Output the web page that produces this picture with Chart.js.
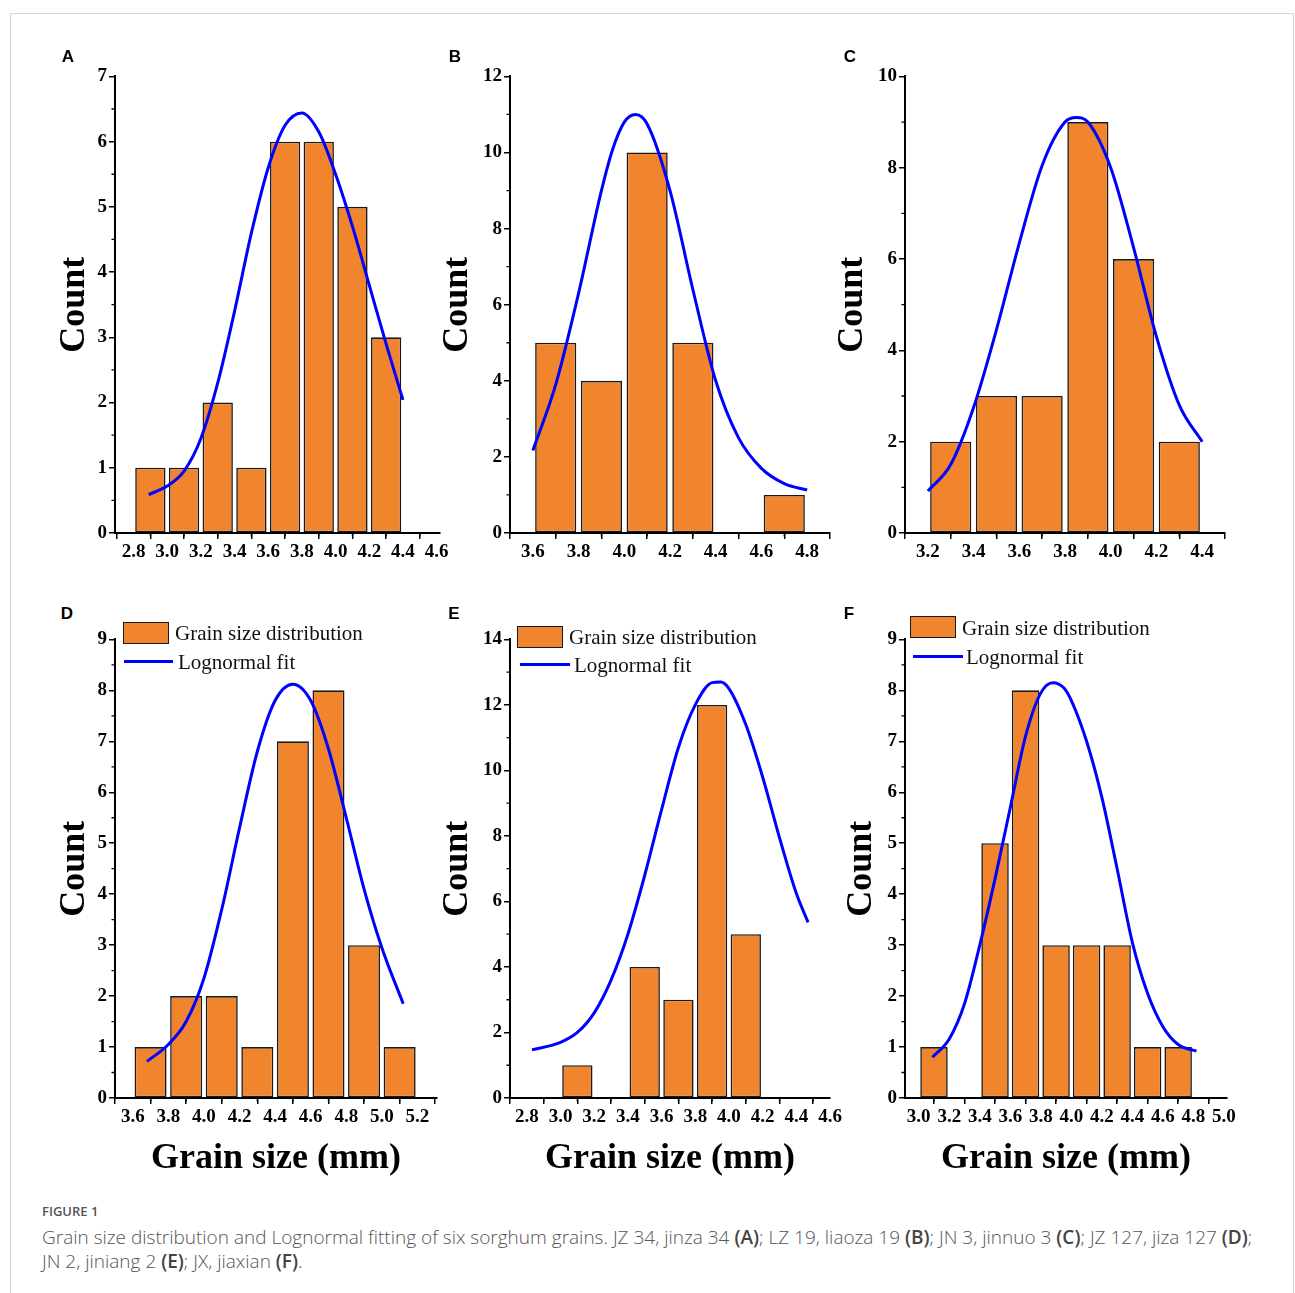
<!DOCTYPE html>
<html>
<head>
<meta charset="utf-8">
<script src="https://cdn.jsdelivr.net/npm/chart.js@4.4.0/dist/chart.umd.min.js"></script>
<style>
  body { margin: 0; background: #fff; width: 1295px; height: 1293px; position: relative; overflow: hidden; }
  .frame { position: absolute; left: 10px; top: 13px; width: 1284px; height: 1300px; border: 1px solid #d6d6d6; box-sizing: border-box; }
  canvas { position: absolute; }
  .letter { position: absolute; font: bold 17px 'Liberation Sans', Arial, sans-serif; color: #000; transform: translate(-50%, -50%); }
  .legbox { position: absolute; width: 44px; height: 20px; background: #F0852D; border: 1.5px solid #1a1a1a; }
  .legline { position: absolute; height: 3px; background: #0000FF; }
  .legtext { position: absolute; font: 21px 'Liberation Serif', 'Times New Roman', serif; color: #111; line-height: 24px; white-space: nowrap; }
  .fig { position: absolute; left: 42px; top: 1202px; font: 600 13px 'Open Sans', sans-serif; color: #555; line-height: 18px; }
  .cap { position: absolute; left: 42px; top: 1225px; font: 300 19px 'Open Sans', sans-serif; color: #555; line-height: 24px; white-space: nowrap; }
  .cap b { font-weight: 600; color: #444; }
</style>
</head>
<body>
<div class="frame"></div>

<canvas id="cA"></canvas>
<canvas id="cB"></canvas>
<canvas id="cC"></canvas>
<canvas id="cD"></canvas>
<canvas id="cE"></canvas>
<canvas id="cF"></canvas>

<div class="letter" style="left:68px;top:57px">A</div>
<div class="letter" style="left:455px;top:57px">B</div>
<div class="letter" style="left:850px;top:57px">C</div>
<div class="letter" style="left:67px;top:614px">D</div>
<div class="letter" style="left:454px;top:614px">E</div>
<div class="letter" style="left:849px;top:614px">F</div>

<!-- legends -->
<div class="legbox" style="left:123px;top:622px"></div>
<div class="legtext" style="left:175px;top:621px">Grain size distribution</div>
<div class="legline" style="left:124px;top:660px;width:49px"></div>
<div class="legtext" style="left:178px;top:650px">Lognormal fit</div>

<div class="legbox" style="left:517px;top:626px"></div>
<div class="legtext" style="left:569px;top:625px">Grain size distribution</div>
<div class="legline" style="left:520px;top:663px;width:50px"></div>
<div class="legtext" style="left:574px;top:653px">Lognormal fit</div>

<div class="legbox" style="left:910px;top:616px"></div>
<div class="legtext" style="left:962px;top:616px">Grain size distribution</div>
<div class="legline" style="left:913px;top:655px;width:50px"></div>
<div class="legtext" style="left:966px;top:645px">Lognormal fit</div>

<div class="fig">FIGURE 1</div>
<div class="cap">Grain size distribution and Lognormal fitting of six sorghum grains. JZ 34, jinza 34 <b>(A)</b>; LZ 19, liaoza 19 <b>(B)</b>; JN 3, jinnuo 3 <b>(C)</b>; JZ 127, jiza 127 <b>(D)</b>;<br>JN 2, jiniang 2 <b>(E)</b>; JX, jiaxian <b>(F)</b>.</div>

<script>
// bin centres (mm) and counts
const binsA = [2.9, 3.1, 3.3, 3.5, 3.7, 3.9, 4.1, 4.3];
const countsA = [1, 1, 2, 1, 6, 6, 5, 3];
const binsB = [3.7, 3.9, 4.1, 4.3, 4.7];
const countsB = [5, 4, 10, 5, 1];
const binsC = [3.3, 3.5, 3.7, 3.9, 4.1, 4.3];
const countsC = [2, 3, 3, 9, 6, 2];
const binsD = [3.7, 3.9, 4.1, 4.3, 4.5, 4.7, 4.9, 5.1];
const countsD = [1, 2, 2, 1, 7, 8, 3, 1];
const binsE = [3.1, 3.5, 3.7, 3.9, 4.1];
const countsE = [1, 4, 3, 12, 5];
const binsF = [3.1, 3.5, 3.7, 3.9, 4.1, 4.3, 4.5, 4.7];
const countsF = [1, 5, 8, 3, 3, 3, 1, 1];

// lognormal fit curves
const fitXA = [2.89, 3.0, 3.1, 3.2, 3.3, 3.4, 3.5, 3.6, 3.7, 3.8, 3.9, 4.0, 4.1, 4.2, 4.3, 4.4];
const fitYA = [0.59, 0.72, 0.95, 1.45, 2.3, 3.4, 4.6, 5.6, 6.25, 6.44, 6.15, 5.5, 4.7, 3.8, 2.9, 2.04];
const fitXB = [3.6, 3.7, 3.8, 3.9, 3.95, 4.0, 4.05, 4.1, 4.2, 4.3, 4.4, 4.5, 4.6, 4.7, 4.8];
const fitYB = [2.17, 3.9, 6.3, 9.0, 10.1, 10.8, 11.0, 10.75, 9.0, 6.4, 4.0, 2.5, 1.7, 1.3, 1.13];
const fitXC = [3.2, 3.3, 3.4, 3.5, 3.6, 3.7, 3.8, 3.85, 3.9, 4.0, 4.1, 4.2, 4.3, 4.4];
const fitYC = [0.92, 1.5, 2.75, 4.45, 6.35, 8.05, 9.0, 9.1, 9.0, 8.0, 6.25, 4.3, 2.8, 2.0];
const fitXD = [3.68, 3.8, 3.9, 4.0, 4.1, 4.2, 4.3, 4.4, 4.5, 4.6, 4.7, 4.8, 4.9, 5.0, 5.12];
const fitYD = [0.72, 1.05, 1.5, 2.35, 3.7, 5.3, 6.8, 7.8, 8.12, 7.8, 6.85, 5.5, 4.1, 2.95, 1.85];
const fitXE = [2.83, 3.0, 3.1, 3.2, 3.3, 3.4, 3.5, 3.6, 3.7, 3.8, 3.9, 3.95, 4.0, 4.1, 4.2, 4.3, 4.4, 4.47];
const fitYE = [1.47, 1.7, 2.0, 2.6, 3.6, 5.0, 6.8, 8.8, 10.7, 12.0, 12.68, 12.7, 12.5, 11.4, 9.8, 7.95, 6.25, 5.36];
const fitXF = [3.09, 3.2, 3.3, 3.4, 3.5, 3.6, 3.7, 3.8, 3.88, 3.95, 4.0, 4.1, 4.2, 4.3, 4.4, 4.5, 4.6, 4.7, 4.82];
const fitYF = [0.8, 1.16, 1.85, 3.0, 4.3, 5.7, 7.1, 7.95, 8.15, 8.05, 7.8, 7.0, 5.9, 4.5, 3.05, 2.05, 1.4, 1.05, 0.92];

// tick labels
const xTicksA = [2.8, 3.0, 3.2, 3.4, 3.6, 3.8, 4.0, 4.2, 4.4, 4.6];
const xTicksB = [3.6, 3.8, 4.0, 4.2, 4.4, 4.6, 4.8];
const xTicksC = [3.2, 3.4, 3.6, 3.8, 4.0, 4.2, 4.4];
const xTicksD = [3.6, 3.8, 4.0, 4.2, 4.4, 4.6, 4.8, 5.0, 5.2];
const xTicksE = [2.8, 3.0, 3.2, 3.4, 3.6, 3.8, 4.0, 4.2, 4.4, 4.6];
const xTicksF = [3.0, 3.2, 3.4, 3.6, 3.8, 4.0, 4.2, 4.4, 4.6, 4.8, 5.0];
const yTicksA = [0, 1, 2, 3, 4, 5, 6, 7];
const yTicksB = [0, 2, 4, 6, 8, 10, 12];
const yTicksC = [0, 2, 4, 6, 8, 10];
const yTicksD = [0, 1, 2, 3, 4, 5, 6, 7, 8, 9];
const yTicksE = [0, 2, 4, 6, 8, 10, 12, 14];
const yTicksF = [0, 1, 2, 3, 4, 5, 6, 7, 8, 9];

// axis ranges
const xRangeA = [2.69, 4.62];
const xRangeB = [3.5, 4.9];
const xRangeC = [3.1, 4.5];
const xRangeD = [3.5, 5.31];
const xRangeE = [2.7, 4.6];
const xRangeF = [2.91, 5.02];

// where each plot area sits on the page
const boxes = {
  A: { left: 115, right: 440, top: 75, bottom: 533, titleX: 75 },
  B: { left: 510, right: 830, top: 75, bottom: 533, titleX: 458 },
  C: { left: 905, right: 1225, top: 75, bottom: 533, titleX: 853 },
  D: { left: 115, right: 437, top: 638, bottom: 1098, titleX: 75 },
  E: { left: 510, right: 830, top: 638, bottom: 1098, titleX: 458 },
  F: { left: 905, right: 1227, top: 638, bottom: 1098, titleX: 862 }
};

const serif = "'Liberation Serif', 'Times New Roman', serif";

const minorTicks = {
  id: "minorTicks",
  afterDraw(chart) {
    const ctx = chart.ctx;
    const xs = chart.scales.x;
    const ys = chart.scales.y;
    ctx.save();
    ctx.strokeStyle = "#000";
    ctx.lineWidth = 1.3;
    ctx.beginPath();
    for (let i = 0; i < xs.ticks.length - 1; i++) {
      const px = xs.getPixelForValue((xs.ticks[i].value + xs.ticks[i + 1].value) / 2);
      ctx.moveTo(px, xs.top);
      ctx.lineTo(px, xs.top + 3.5);
    }
    for (let i = 0; i < ys.ticks.length - 1; i++) {
      const py = ys.getPixelForValue((ys.ticks[i].value + ys.ticks[i + 1].value) / 2);
      ctx.moveTo(ys.right, py);
      ctx.lineTo(ys.right - 3.5, py);
    }
    ctx.stroke();
    ctx.restore();
  }
};

function drawPanel(id, bins, counts, fitX, fitY, xTicks, yTicks, xRange, showXTitle) {
  const b = boxes[id];
  const W = 80;
  const H = showXTitle ? 82 : 40;
  const padTop = 12;
  const padRight = 24;
  const cv = document.getElementById("c" + id);
  const cw = b.right - b.left + W + padRight;
  const ch = b.bottom - b.top + padTop + H;
  cv.width = cw;
  cv.height = ch;
  cv.style.width = cw + "px";
  cv.style.height = ch + "px";
  cv.style.left = b.left - W + "px";
  cv.style.top = b.top - padTop + "px";

  const tickFont = { family: serif, size: 19, weight: "bold" };
  const titleFont = { family: serif, size: 36, weight: "bold" };

  new Chart(cv.getContext("2d"), {
    type: "bar",
    data: {
      datasets: [
        {
          type: "line",
          label: "Lognormal fit",
          data: fitX.map((x, i) => ({ x: x, y: fitY[i] })),
          borderColor: "#0000FF",
          borderWidth: 3,
          pointRadius: 0,
          cubicInterpolationMode: "monotone",
          fill: false,
          order: 0
        },
        {
          type: "bar",
          label: "Grain size distribution",
          data: bins.map((x, i) => ({ x: x, y: counts[i] })),
          backgroundColor: "#F0852D",
          borderColor: "#1a1a1a",
          borderWidth: 1.6,
          borderSkipped: false,
          barPercentage: 0.9,
          categoryPercentage: 1,
          order: 1
        }
      ]
    },
    options: {
      responsive: false,
      animation: false,
      layout: { padding: { top: padTop, right: padRight, left: 0, bottom: 0 } },
      plugins: { legend: { display: false }, tooltip: { enabled: false } },
      scales: {
        x: {
          type: "linear",
          min: xRange[0],
          max: xRange[1],
          offset: false,
          afterBuildTicks: (s) => { s.ticks = xTicks.map((v) => ({ value: v })); },
          afterFit: (s) => { s.height = H; },
          ticks: {
            font: tickFont, color: "#000", padding: 2, maxRotation: 0, autoSkip: false,
            callback: (v) => Number(v).toFixed(1)
          },
          grid: { display: true, drawOnChartArea: false, drawTicks: true, tickLength: 6, color: "#000", lineWidth: 1.5 },
          border: { display: true, color: "#000", width: 2 },
          title: {
            display: showXTitle, text: "Grain size (mm)", font: titleFont, color: "#000",
            padding: { top: 0, bottom: 0 }
          }
        },
        y: {
          min: 0,
          max: yTicks[yTicks.length - 1],
          afterBuildTicks: (s) => { s.ticks = yTicks.map((v) => ({ value: v })); },
          afterFit: (s) => { s.width = W; },
          ticks: { font: tickFont, color: "#000", padding: 2, callback: (v) => v },
          grid: { display: true, drawOnChartArea: false, drawTicks: true, tickLength: 6, color: "#000", lineWidth: 1.5 },
          border: { display: true, color: "#000", width: 2 },
          title: {
            display: true, text: "Count", font: titleFont, color: "#000",
            padding: { top: b.titleX - b.left + W - 21.6, bottom: 0 }
          }
        }
      }
    },
    plugins: [minorTicks]
  });
}

drawPanel("A", binsA, countsA, fitXA, fitYA, xTicksA, yTicksA, xRangeA, false);
drawPanel("B", binsB, countsB, fitXB, fitYB, xTicksB, yTicksB, xRangeB, false);
drawPanel("C", binsC, countsC, fitXC, fitYC, xTicksC, yTicksC, xRangeC, false);
drawPanel("D", binsD, countsD, fitXD, fitYD, xTicksD, yTicksD, xRangeD, true);
drawPanel("E", binsE, countsE, fitXE, fitYE, xTicksE, yTicksE, xRangeE, true);
drawPanel("F", binsF, countsF, fitXF, fitYF, xTicksF, yTicksF, xRangeF, true);
</script>
</body>
</html>
